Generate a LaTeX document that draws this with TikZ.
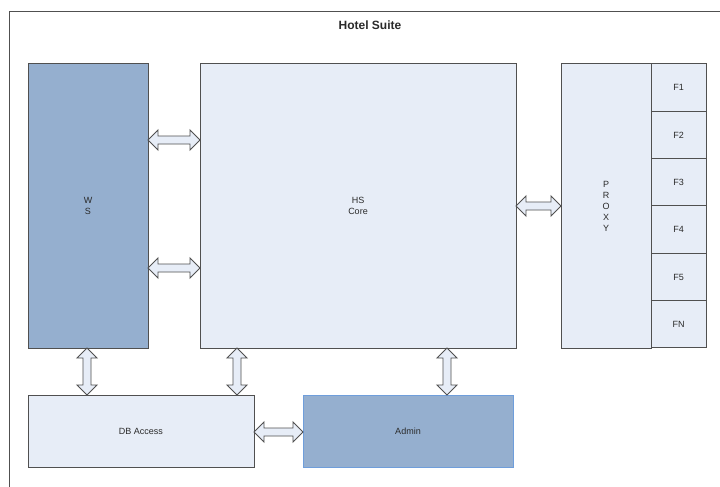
\documentclass[tikz,border=0pt]{standalone}
\usepackage{fontspec}
\setmainfont{Liberation Sans}
\usetikzlibrary{positioning,calc}

\definecolor{boxdark}{HTML}{95AFCF}
\definecolor{boxlight}{HTML}{E7EDF7}
\definecolor{boxline}{HTML}{505050}
\definecolor{admline}{HTML}{6F9EDB}
\definecolor{labeltext}{HTML}{2A2A2A}

% fat double arrows between two points (horizontal / vertical)
\newcommand{\harrow}[2]{%
  \draw[fatarrow] #1 -- ($#1+(10,10)$) -- ($#1+(10,4)$) -- ($#2+(-10,4)$) -- ($#2+(-10,10)$)
    -- #2 -- ($#2+(-10,-10)$) -- ($#2+(-10,-4)$) -- ($#1+(10,-4)$) -- ($#1+(10,-10)$) -- cycle;}
\newcommand{\varrow}[2]{%
  \draw[fatarrow] #1 -- ($#1+(10,10)$) -- ($#1+(4,10)$) -- ($#2+(4,-10)$) -- ($#2+(10,-10)$)
    -- #2 -- ($#2+(-10,-10)$) -- ($#2+(-4,-10)$) -- ($#1+(-4,10)$) -- ($#1+(-10,10)$) -- cycle;}

\tikzset{
  block/.style={draw=boxline, line width=1pt, fill=boxlight, inner sep=0pt, outer sep=0pt,
    anchor=north west, text=labeltext, font=\fontsize{9}{10.5}\selectfont, align=center},
  darkblock/.style={block, fill=boxdark},
  fcell/.style={block, anchor=north, minimum width=55pt, minimum height=47.33pt},
  fatarrow/.style={draw=boxline, line width=0.9pt, fill=boxlight, line join=miter}
}

\begin{document}
\begin{tikzpicture}[x=1pt, y=-1pt]
  \useasboundingbox (0,0) rectangle (720,487);
  \clip (0,0) rectangle (720,487);
  \fill[white] (0,0) rectangle (720,487);
  % outer frame
  \draw[boxline, line width=1pt] (9,12) rectangle (740,510);
  \node[text=labeltext, font=\fontsize{12}{14}\selectfont\bfseries] (title) at (370,25) {Hotel Suite};

  \node[darkblock, minimum width=120pt, minimum height=284pt] (ws) at (28,64) {W\\S};
  \node[block, minimum width=316pt, minimum height=284pt] (core) at (200,64) {HS\\Core};
  \node[block, minimum width=90pt, minimum height=284pt, font=\fontsize{9}{11}\selectfont] (proxy) at (561,64) {P\\R\\O\\X\\Y};
  \node[fcell, anchor=north west] (f1) at (proxy.north east) {F1};
  \node[fcell, below=0pt of f1] (f2) {F2};
  \node[fcell, below=0pt of f2] (f3) {F3};
  \node[fcell, below=0pt of f3] (f4) {F4};
  \node[fcell, below=0pt of f4] (f5) {F5};
  \node[fcell, below=0pt of f5] (fn) {FN};
  \node[block, minimum width=226pt, minimum height=72pt] (db) at (28,395) {DB Access};
  \node[darkblock, draw=admline, minimum width=210pt, minimum height=72pt] (admin) at (303,395) {Admin};

  \harrow{(ws.east |- 0,140)}{(core.west |- 0,140)}
  \harrow{(ws.east |- 0,268)}{(core.west |- 0,268)}
  \harrow{(core.east |- 0,206)}{(proxy.west |- 0,206)}
  \harrow{(db.east |- 0,432)}{(admin.west |- 0,432)}
  \varrow{(ws.south -| 87,0)}{(db.north -| 87,0)}
  \varrow{(core.south -| 237,0)}{(db.north -| 237,0)}
  \varrow{(core.south -| 447,0)}{(admin.north -| 447,0)}
\end{tikzpicture}
\end{document}
